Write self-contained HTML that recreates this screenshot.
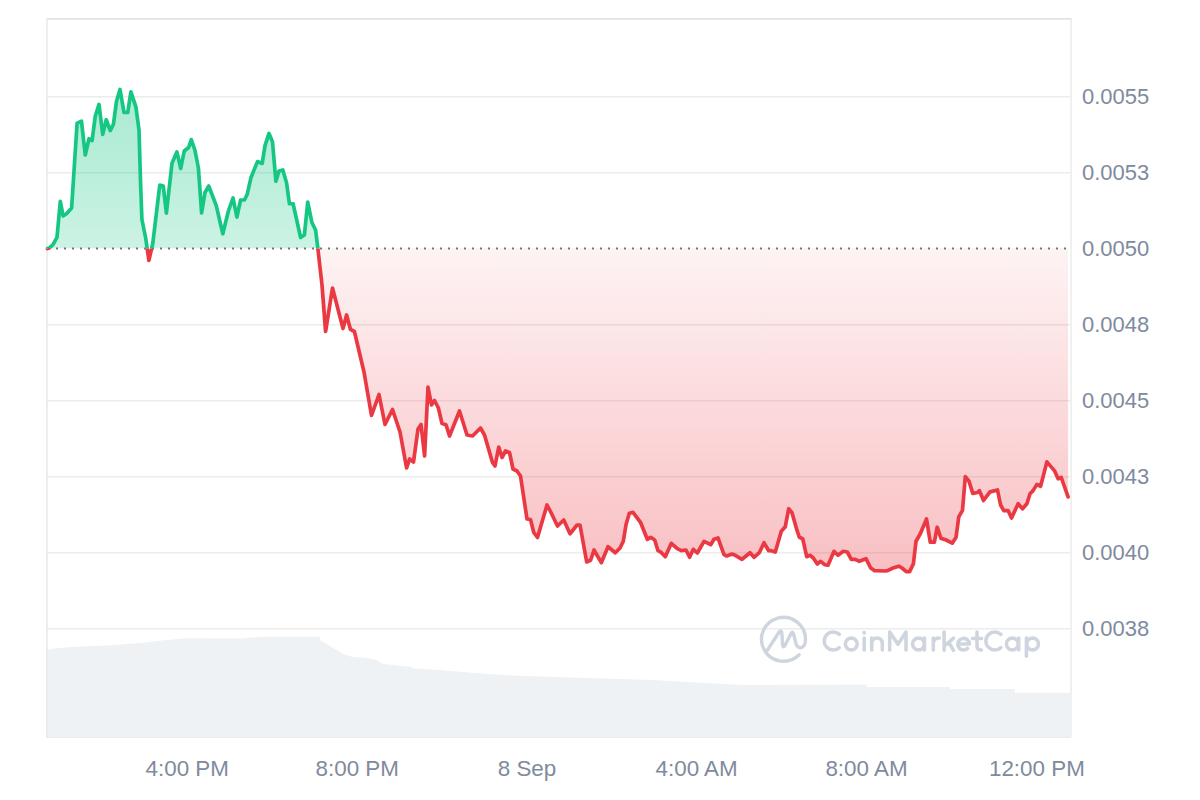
<!DOCTYPE html>
<html><head><meta charset="utf-8"><style>
html,body{margin:0;padding:0;background:#fff;width:1200px;height:800px;overflow:hidden}
svg{display:block;font-family:"Liberation Sans",sans-serif}
</style></head><body>
<svg width="1200" height="800" viewBox="0 0 1200 800">
<defs>
<linearGradient id="gg" gradientUnits="userSpaceOnUse" x1="0" y1="89" x2="0" y2="248.6">
<stop offset="0" stop-color="#16c784" stop-opacity="0.37"/><stop offset="1" stop-color="#16c784" stop-opacity="0.22"/></linearGradient>
<linearGradient id="rg" gradientUnits="userSpaceOnUse" x1="0" y1="248.6" x2="0" y2="572">
<stop offset="0" stop-color="#ea3943" stop-opacity="0.06"/><stop offset="1" stop-color="#ea3943" stop-opacity="0.32"/></linearGradient>
<clipPath id="up"><rect x="0" y="0" width="1200" height="248.6"/></clipPath>
<clipPath id="dn"><rect x="0" y="248.6" width="1200" height="600"/></clipPath>
</defs>
<polygon points="46.00,650.00 55.00,648.30 55.00,648.30 75.80,646.70 108.00,645.50 140.00,643.00 161.70,640.50 186.70,638.30 240.00,638.50 264.00,636.70 320.00,636.70 320.00,640.00 328.00,645.00 336.70,650.00 343.00,654.00 351.70,656.70 366.70,658.00 376.70,660.00 383.00,664.00 410.00,666.70 413.00,668.30 440.00,670.00 463.00,672.00 487.00,674.00 523.00,676.00 587.00,678.00 653.00,680.00 687.00,682.00 743.00,685.00 867.00,684.50 867.00,687.00 950.00,687.00 950.00,689.00 1015.00,689.00 1015.00,692.70 1070.00,692.70 1070,737 46,737" fill="#eef2f5"/>
<line x1="47" y1="96.7" x2="1070" y2="96.7" stroke="#ececec" stroke-width="1.5"/>
<line x1="47" y1="172.7" x2="1070" y2="172.7" stroke="#ececec" stroke-width="1.5"/>
<line x1="47" y1="324.7" x2="1070" y2="324.7" stroke="#ececec" stroke-width="1.5"/>
<line x1="47" y1="400.7" x2="1070" y2="400.7" stroke="#ececec" stroke-width="1.5"/>
<line x1="47" y1="476.7" x2="1070" y2="476.7" stroke="#ececec" stroke-width="1.5"/>
<line x1="47" y1="552.7" x2="1070" y2="552.7" stroke="#ececec" stroke-width="1.5"/>
<line x1="47" y1="628.7" x2="1070" y2="628.7" stroke="#ececec" stroke-width="1.5"/>
<line x1="46" y1="737.5" x2="1071" y2="737.5" stroke="#ebebeb" stroke-width="1"/>
<line x1="47" y1="18.9" x2="1072" y2="18.9" stroke="#e3e3e3" stroke-width="1.8"/>
<line x1="47" y1="18" x2="47" y2="737" stroke="#ececec" stroke-width="1.8"/>
<line x1="1071.1" y1="18" x2="1071.1" y2="737" stroke="#ececec" stroke-width="1.5"/>
<polygon points="47.50,248.60 49.10,248.10 53.00,244.70 57.00,237.40 60.30,201.40 63.10,216.00 66.50,213.80 71.60,208.10 77.10,123.10 81.50,121.25 85.25,155.00 89.00,138.75 92.10,140.60 95.25,116.25 99.00,104.40 102.75,134.40 106.25,119.75 110.25,130.60 113.40,124.40 116.50,101.25 120.00,89.40 124.00,112.50 127.75,112.50 130.90,91.90 135.90,106.90 139.00,130.00 140.50,180.75 141.90,219.25 145.75,238.50 148.90,260.40 152.75,243.75 159.75,185.10 163.25,186.00 166.40,213.10 172.00,163.25 176.90,151.90 180.75,168.50 184.25,151.00 188.60,147.50 191.25,139.60 195.00,150.50 198.40,168.00 201.60,213.00 205.00,192.50 208.75,186.00 216.25,205.60 222.80,233.75 228.40,211.00 233.00,198.00 236.90,217.00 240.60,200.00 244.40,200.00 247.20,194.40 251.00,177.50 257.50,161.60 262.20,163.40 265.00,145.60 269.00,133.40 272.50,141.90 275.90,181.25 279.00,171.00 282.80,170.00 286.60,183.00 289.40,203.75 293.10,203.75 300.60,237.50 304.40,235.00 307.75,202.00 311.90,222.50 315.60,230.00 317.90,248.75 322.00,285.00 325.60,331.50 332.50,288.00 343.00,328.50 346.60,315.00 350.50,329.40 354.40,331.50 364.00,372.00 371.50,415.50 379.00,394.50 385.00,424.50 392.50,409.50 400.00,432.00 406.60,468.00 409.60,459.00 413.50,462.00 418.00,429.00 421.00,424.50 424.60,456.00 428.00,387.00 431.50,405.00 434.50,400.50 438.40,408.00 442.00,423.60 446.00,424.80 449.50,436.00 459.50,411.00 467.00,435.00 472.50,436.00 480.50,428.00 484.50,435.00 492.50,462.50 495.00,466.00 498.75,447.00 502.00,457.50 505.50,451.00 509.50,452.50 513.00,469.00 517.00,471.00 520.50,476.00 527.00,519.00 530.50,519.50 533.75,532.50 537.50,537.50 547.00,505.00 551.00,512.50 557.50,526.00 563.75,520.00 570.00,533.75 577.00,525.00 580.00,525.00 586.70,562.00 590.70,560.00 594.00,550.00 601.30,562.70 608.00,546.70 615.30,552.70 620.00,548.00 623.30,541.30 626.00,524.70 629.30,513.30 633.00,512.40 640.70,522.70 647.30,539.30 650.70,537.30 654.70,540.00 658.00,550.70 660.70,552.00 665.30,556.70 671.30,543.30 677.30,548.70 681.30,550.70 686.00,550.00 689.60,557.30 693.30,549.30 697.30,553.00 704.00,541.30 710.70,544.70 714.00,539.30 718.00,538.00 724.00,554.70 726.70,556.00 732.00,554.00 735.30,555.30 742.00,559.30 750.00,552.70 754.00,557.30 759.30,552.70 764.00,542.70 768.70,550.70 771.30,550.70 775.30,552.00 781.30,531.30 785.30,526.70 788.70,508.70 792.00,512.70 796.70,529.30 799.30,537.30 802.70,538.70 806.70,556.70 810.00,555.30 813.30,558.00 817.30,564.00 820.70,561.30 824.70,564.70 828.00,565.30 834.00,551.30 838.00,555.30 843.30,551.30 847.30,552.00 851.30,559.30 855.30,559.30 859.30,561.30 866.00,558.70 870.70,568.00 874.70,570.70 884.70,571.00 887.50,570.70 893.00,568.00 898.75,566.20 902.00,568.00 906.25,571.60 909.60,571.60 913.40,563.75 916.00,541.25 920.30,533.75 926.50,519.00 930.25,542.20 934.40,542.20 937.20,527.20 941.00,538.40 945.60,539.75 952.20,543.10 956.00,537.50 958.75,516.90 962.50,510.30 965.30,476.60 969.00,481.25 972.80,493.40 977.50,492.50 979.40,490.60 983.50,500.50 990.00,491.90 997.50,490.00 1000.60,505.00 1003.75,510.60 1008.10,510.60 1011.50,518.10 1018.10,503.75 1022.50,508.75 1026.90,503.75 1030.00,493.75 1033.10,490.60 1036.90,484.40 1040.60,486.25 1046.90,461.90 1054.40,470.60 1058.10,478.75 1061.25,477.50 1068.10,496.90 1068.10,248.6 47.50,248.6" fill="url(#gg)" clip-path="url(#up)"/>
<polygon points="47.50,248.60 49.10,248.10 53.00,244.70 57.00,237.40 60.30,201.40 63.10,216.00 66.50,213.80 71.60,208.10 77.10,123.10 81.50,121.25 85.25,155.00 89.00,138.75 92.10,140.60 95.25,116.25 99.00,104.40 102.75,134.40 106.25,119.75 110.25,130.60 113.40,124.40 116.50,101.25 120.00,89.40 124.00,112.50 127.75,112.50 130.90,91.90 135.90,106.90 139.00,130.00 140.50,180.75 141.90,219.25 145.75,238.50 148.90,260.40 152.75,243.75 159.75,185.10 163.25,186.00 166.40,213.10 172.00,163.25 176.90,151.90 180.75,168.50 184.25,151.00 188.60,147.50 191.25,139.60 195.00,150.50 198.40,168.00 201.60,213.00 205.00,192.50 208.75,186.00 216.25,205.60 222.80,233.75 228.40,211.00 233.00,198.00 236.90,217.00 240.60,200.00 244.40,200.00 247.20,194.40 251.00,177.50 257.50,161.60 262.20,163.40 265.00,145.60 269.00,133.40 272.50,141.90 275.90,181.25 279.00,171.00 282.80,170.00 286.60,183.00 289.40,203.75 293.10,203.75 300.60,237.50 304.40,235.00 307.75,202.00 311.90,222.50 315.60,230.00 317.90,248.75 322.00,285.00 325.60,331.50 332.50,288.00 343.00,328.50 346.60,315.00 350.50,329.40 354.40,331.50 364.00,372.00 371.50,415.50 379.00,394.50 385.00,424.50 392.50,409.50 400.00,432.00 406.60,468.00 409.60,459.00 413.50,462.00 418.00,429.00 421.00,424.50 424.60,456.00 428.00,387.00 431.50,405.00 434.50,400.50 438.40,408.00 442.00,423.60 446.00,424.80 449.50,436.00 459.50,411.00 467.00,435.00 472.50,436.00 480.50,428.00 484.50,435.00 492.50,462.50 495.00,466.00 498.75,447.00 502.00,457.50 505.50,451.00 509.50,452.50 513.00,469.00 517.00,471.00 520.50,476.00 527.00,519.00 530.50,519.50 533.75,532.50 537.50,537.50 547.00,505.00 551.00,512.50 557.50,526.00 563.75,520.00 570.00,533.75 577.00,525.00 580.00,525.00 586.70,562.00 590.70,560.00 594.00,550.00 601.30,562.70 608.00,546.70 615.30,552.70 620.00,548.00 623.30,541.30 626.00,524.70 629.30,513.30 633.00,512.40 640.70,522.70 647.30,539.30 650.70,537.30 654.70,540.00 658.00,550.70 660.70,552.00 665.30,556.70 671.30,543.30 677.30,548.70 681.30,550.70 686.00,550.00 689.60,557.30 693.30,549.30 697.30,553.00 704.00,541.30 710.70,544.70 714.00,539.30 718.00,538.00 724.00,554.70 726.70,556.00 732.00,554.00 735.30,555.30 742.00,559.30 750.00,552.70 754.00,557.30 759.30,552.70 764.00,542.70 768.70,550.70 771.30,550.70 775.30,552.00 781.30,531.30 785.30,526.70 788.70,508.70 792.00,512.70 796.70,529.30 799.30,537.30 802.70,538.70 806.70,556.70 810.00,555.30 813.30,558.00 817.30,564.00 820.70,561.30 824.70,564.70 828.00,565.30 834.00,551.30 838.00,555.30 843.30,551.30 847.30,552.00 851.30,559.30 855.30,559.30 859.30,561.30 866.00,558.70 870.70,568.00 874.70,570.70 884.70,571.00 887.50,570.70 893.00,568.00 898.75,566.20 902.00,568.00 906.25,571.60 909.60,571.60 913.40,563.75 916.00,541.25 920.30,533.75 926.50,519.00 930.25,542.20 934.40,542.20 937.20,527.20 941.00,538.40 945.60,539.75 952.20,543.10 956.00,537.50 958.75,516.90 962.50,510.30 965.30,476.60 969.00,481.25 972.80,493.40 977.50,492.50 979.40,490.60 983.50,500.50 990.00,491.90 997.50,490.00 1000.60,505.00 1003.75,510.60 1008.10,510.60 1011.50,518.10 1018.10,503.75 1022.50,508.75 1026.90,503.75 1030.00,493.75 1033.10,490.60 1036.90,484.40 1040.60,486.25 1046.90,461.90 1054.40,470.60 1058.10,478.75 1061.25,477.50 1068.10,496.90 1068.10,248.6 47.50,248.6" fill="url(#rg)" clip-path="url(#dn)"/>
<g fill="none" stroke="#cfd5de" stroke-width="3.4" stroke-linecap="round" stroke-linejoin="round">
<path d="M767.5,650 L779.2,632 Q781,629.5 781.8,632.5 L782.6,645 Q783.2,648.5 785,645.5 L790.8,634 Q792.5,630.5 793.6,634 L795.8,643 Q797.5,648.5 801.5,647.5 Q805.5,646 805.5,639.25 A22,22 0 1 0 799.1,654.8"/>
</g>
<g fill="none" stroke="#cfd5de" stroke-width="3.55" stroke-linecap="round" stroke-linejoin="round">
<path d="M839.3,634.4 A9,9 0 1 0 839.3,647.6"/>
<circle cx="851.3" cy="644" r="5.9"/>
<path d="M864.2,638 V650"/>
<path d="M871.7,638 V650 M871.7,643.8 Q871.7,638 877,638 Q882.3,638 882.3,643.8 V650"/>
<path d="M889.7,650 V632 L898,644.3 L906,632 V650"/>
<circle cx="918.5" cy="644" r="5.9"/><path d="M924.4,638 V650"/>
<path d="M933.3,638 V650 M933.3,642.5 Q934.3,638 939.3,638"/>
<path d="M944.1,632 V650.3 M953.5,638.1 L946.4,644.3 M948.9,642.7 L953.5,650.3"/>
<path d="M957.8,644 H969.4 A5.8,5.8 0 1 0 967.6,648.4"/>
<path d="M977,632 V646.3 Q977,650 981.5,650 M972.5,638.4 H981.6"/>
<path d="M1000.9,634.4 A9,9 0 1 0 1000.9,647.6"/>
<circle cx="1012.3" cy="644" r="5.9"/><path d="M1018.7,638 V650"/>
<path d="M1026.4,638 V656.3"/><circle cx="1032.6" cy="644" r="5.9"/>
</g>
<circle cx="864.2" cy="632.7" r="2" fill="#cfd5de"/>
<line x1="48" y1="248.6" x2="1070" y2="248.6" stroke="#777" stroke-width="2" stroke-dasharray="2,6"/>
<polyline points="47.50,248.60 49.10,248.10 53.00,244.70 57.00,237.40 60.30,201.40 63.10,216.00 66.50,213.80 71.60,208.10 77.10,123.10 81.50,121.25 85.25,155.00 89.00,138.75 92.10,140.60 95.25,116.25 99.00,104.40 102.75,134.40 106.25,119.75 110.25,130.60 113.40,124.40 116.50,101.25 120.00,89.40 124.00,112.50 127.75,112.50 130.90,91.90 135.90,106.90 139.00,130.00 140.50,180.75 141.90,219.25 145.75,238.50 148.90,260.40 152.75,243.75 159.75,185.10 163.25,186.00 166.40,213.10 172.00,163.25 176.90,151.90 180.75,168.50 184.25,151.00 188.60,147.50 191.25,139.60 195.00,150.50 198.40,168.00 201.60,213.00 205.00,192.50 208.75,186.00 216.25,205.60 222.80,233.75 228.40,211.00 233.00,198.00 236.90,217.00 240.60,200.00 244.40,200.00 247.20,194.40 251.00,177.50 257.50,161.60 262.20,163.40 265.00,145.60 269.00,133.40 272.50,141.90 275.90,181.25 279.00,171.00 282.80,170.00 286.60,183.00 289.40,203.75 293.10,203.75 300.60,237.50 304.40,235.00 307.75,202.00 311.90,222.50 315.60,230.00 317.90,248.75 322.00,285.00 325.60,331.50 332.50,288.00 343.00,328.50 346.60,315.00 350.50,329.40 354.40,331.50 364.00,372.00 371.50,415.50 379.00,394.50 385.00,424.50 392.50,409.50 400.00,432.00 406.60,468.00 409.60,459.00 413.50,462.00 418.00,429.00 421.00,424.50 424.60,456.00 428.00,387.00 431.50,405.00 434.50,400.50 438.40,408.00 442.00,423.60 446.00,424.80 449.50,436.00 459.50,411.00 467.00,435.00 472.50,436.00 480.50,428.00 484.50,435.00 492.50,462.50 495.00,466.00 498.75,447.00 502.00,457.50 505.50,451.00 509.50,452.50 513.00,469.00 517.00,471.00 520.50,476.00 527.00,519.00 530.50,519.50 533.75,532.50 537.50,537.50 547.00,505.00 551.00,512.50 557.50,526.00 563.75,520.00 570.00,533.75 577.00,525.00 580.00,525.00 586.70,562.00 590.70,560.00 594.00,550.00 601.30,562.70 608.00,546.70 615.30,552.70 620.00,548.00 623.30,541.30 626.00,524.70 629.30,513.30 633.00,512.40 640.70,522.70 647.30,539.30 650.70,537.30 654.70,540.00 658.00,550.70 660.70,552.00 665.30,556.70 671.30,543.30 677.30,548.70 681.30,550.70 686.00,550.00 689.60,557.30 693.30,549.30 697.30,553.00 704.00,541.30 710.70,544.70 714.00,539.30 718.00,538.00 724.00,554.70 726.70,556.00 732.00,554.00 735.30,555.30 742.00,559.30 750.00,552.70 754.00,557.30 759.30,552.70 764.00,542.70 768.70,550.70 771.30,550.70 775.30,552.00 781.30,531.30 785.30,526.70 788.70,508.70 792.00,512.70 796.70,529.30 799.30,537.30 802.70,538.70 806.70,556.70 810.00,555.30 813.30,558.00 817.30,564.00 820.70,561.30 824.70,564.70 828.00,565.30 834.00,551.30 838.00,555.30 843.30,551.30 847.30,552.00 851.30,559.30 855.30,559.30 859.30,561.30 866.00,558.70 870.70,568.00 874.70,570.70 884.70,571.00 887.50,570.70 893.00,568.00 898.75,566.20 902.00,568.00 906.25,571.60 909.60,571.60 913.40,563.75 916.00,541.25 920.30,533.75 926.50,519.00 930.25,542.20 934.40,542.20 937.20,527.20 941.00,538.40 945.60,539.75 952.20,543.10 956.00,537.50 958.75,516.90 962.50,510.30 965.30,476.60 969.00,481.25 972.80,493.40 977.50,492.50 979.40,490.60 983.50,500.50 990.00,491.90 997.50,490.00 1000.60,505.00 1003.75,510.60 1008.10,510.60 1011.50,518.10 1018.10,503.75 1022.50,508.75 1026.90,503.75 1030.00,493.75 1033.10,490.60 1036.90,484.40 1040.60,486.25 1046.90,461.90 1054.40,470.60 1058.10,478.75 1061.25,477.50 1068.10,496.90" fill="none" stroke="#16c784" stroke-width="3.7" stroke-linejoin="round" stroke-linecap="round" clip-path="url(#up)"/>
<polyline points="47.50,248.60 49.10,248.10 53.00,244.70 57.00,237.40 60.30,201.40 63.10,216.00 66.50,213.80 71.60,208.10 77.10,123.10 81.50,121.25 85.25,155.00 89.00,138.75 92.10,140.60 95.25,116.25 99.00,104.40 102.75,134.40 106.25,119.75 110.25,130.60 113.40,124.40 116.50,101.25 120.00,89.40 124.00,112.50 127.75,112.50 130.90,91.90 135.90,106.90 139.00,130.00 140.50,180.75 141.90,219.25 145.75,238.50 148.90,260.40 152.75,243.75 159.75,185.10 163.25,186.00 166.40,213.10 172.00,163.25 176.90,151.90 180.75,168.50 184.25,151.00 188.60,147.50 191.25,139.60 195.00,150.50 198.40,168.00 201.60,213.00 205.00,192.50 208.75,186.00 216.25,205.60 222.80,233.75 228.40,211.00 233.00,198.00 236.90,217.00 240.60,200.00 244.40,200.00 247.20,194.40 251.00,177.50 257.50,161.60 262.20,163.40 265.00,145.60 269.00,133.40 272.50,141.90 275.90,181.25 279.00,171.00 282.80,170.00 286.60,183.00 289.40,203.75 293.10,203.75 300.60,237.50 304.40,235.00 307.75,202.00 311.90,222.50 315.60,230.00 317.90,248.75 322.00,285.00 325.60,331.50 332.50,288.00 343.00,328.50 346.60,315.00 350.50,329.40 354.40,331.50 364.00,372.00 371.50,415.50 379.00,394.50 385.00,424.50 392.50,409.50 400.00,432.00 406.60,468.00 409.60,459.00 413.50,462.00 418.00,429.00 421.00,424.50 424.60,456.00 428.00,387.00 431.50,405.00 434.50,400.50 438.40,408.00 442.00,423.60 446.00,424.80 449.50,436.00 459.50,411.00 467.00,435.00 472.50,436.00 480.50,428.00 484.50,435.00 492.50,462.50 495.00,466.00 498.75,447.00 502.00,457.50 505.50,451.00 509.50,452.50 513.00,469.00 517.00,471.00 520.50,476.00 527.00,519.00 530.50,519.50 533.75,532.50 537.50,537.50 547.00,505.00 551.00,512.50 557.50,526.00 563.75,520.00 570.00,533.75 577.00,525.00 580.00,525.00 586.70,562.00 590.70,560.00 594.00,550.00 601.30,562.70 608.00,546.70 615.30,552.70 620.00,548.00 623.30,541.30 626.00,524.70 629.30,513.30 633.00,512.40 640.70,522.70 647.30,539.30 650.70,537.30 654.70,540.00 658.00,550.70 660.70,552.00 665.30,556.70 671.30,543.30 677.30,548.70 681.30,550.70 686.00,550.00 689.60,557.30 693.30,549.30 697.30,553.00 704.00,541.30 710.70,544.70 714.00,539.30 718.00,538.00 724.00,554.70 726.70,556.00 732.00,554.00 735.30,555.30 742.00,559.30 750.00,552.70 754.00,557.30 759.30,552.70 764.00,542.70 768.70,550.70 771.30,550.70 775.30,552.00 781.30,531.30 785.30,526.70 788.70,508.70 792.00,512.70 796.70,529.30 799.30,537.30 802.70,538.70 806.70,556.70 810.00,555.30 813.30,558.00 817.30,564.00 820.70,561.30 824.70,564.70 828.00,565.30 834.00,551.30 838.00,555.30 843.30,551.30 847.30,552.00 851.30,559.30 855.30,559.30 859.30,561.30 866.00,558.70 870.70,568.00 874.70,570.70 884.70,571.00 887.50,570.70 893.00,568.00 898.75,566.20 902.00,568.00 906.25,571.60 909.60,571.60 913.40,563.75 916.00,541.25 920.30,533.75 926.50,519.00 930.25,542.20 934.40,542.20 937.20,527.20 941.00,538.40 945.60,539.75 952.20,543.10 956.00,537.50 958.75,516.90 962.50,510.30 965.30,476.60 969.00,481.25 972.80,493.40 977.50,492.50 979.40,490.60 983.50,500.50 990.00,491.90 997.50,490.00 1000.60,505.00 1003.75,510.60 1008.10,510.60 1011.50,518.10 1018.10,503.75 1022.50,508.75 1026.90,503.75 1030.00,493.75 1033.10,490.60 1036.90,484.40 1040.60,486.25 1046.90,461.90 1054.40,470.60 1058.10,478.75 1061.25,477.50 1068.10,496.90" fill="none" stroke="#ea3943" stroke-width="3.7" stroke-linejoin="round" stroke-linecap="round" clip-path="url(#dn)"/>
<text x="1082" y="103.8" font-size="22" fill="#808a9d">0.0055</text>
<text x="1082" y="179.8" font-size="22" fill="#808a9d">0.0053</text>
<text x="1082" y="255.8" font-size="22" fill="#808a9d">0.0050</text>
<text x="1082" y="331.8" font-size="22" fill="#808a9d">0.0048</text>
<text x="1082" y="407.8" font-size="22" fill="#808a9d">0.0045</text>
<text x="1082" y="483.8" font-size="22" fill="#808a9d">0.0043</text>
<text x="1082" y="559.8" font-size="22" fill="#808a9d">0.0040</text>
<text x="1082" y="635.8" font-size="22" fill="#808a9d">0.0038</text>
<text x="187.2" y="776" font-size="22.4" fill="#808a9d" text-anchor="middle">4:00 PM</text>
<text x="357.2" y="776" font-size="22.4" fill="#808a9d" text-anchor="middle">8:00 PM</text>
<text x="527" y="776" font-size="22.4" fill="#808a9d" text-anchor="middle">8 Sep</text>
<text x="696.6" y="776" font-size="22.4" fill="#808a9d" text-anchor="middle">4:00 AM</text>
<text x="866.5" y="776" font-size="22.4" fill="#808a9d" text-anchor="middle">8:00 AM</text>
<text x="1036.9" y="776" font-size="22.4" fill="#808a9d" text-anchor="middle">12:00 PM</text>
</svg>
</body></html>
